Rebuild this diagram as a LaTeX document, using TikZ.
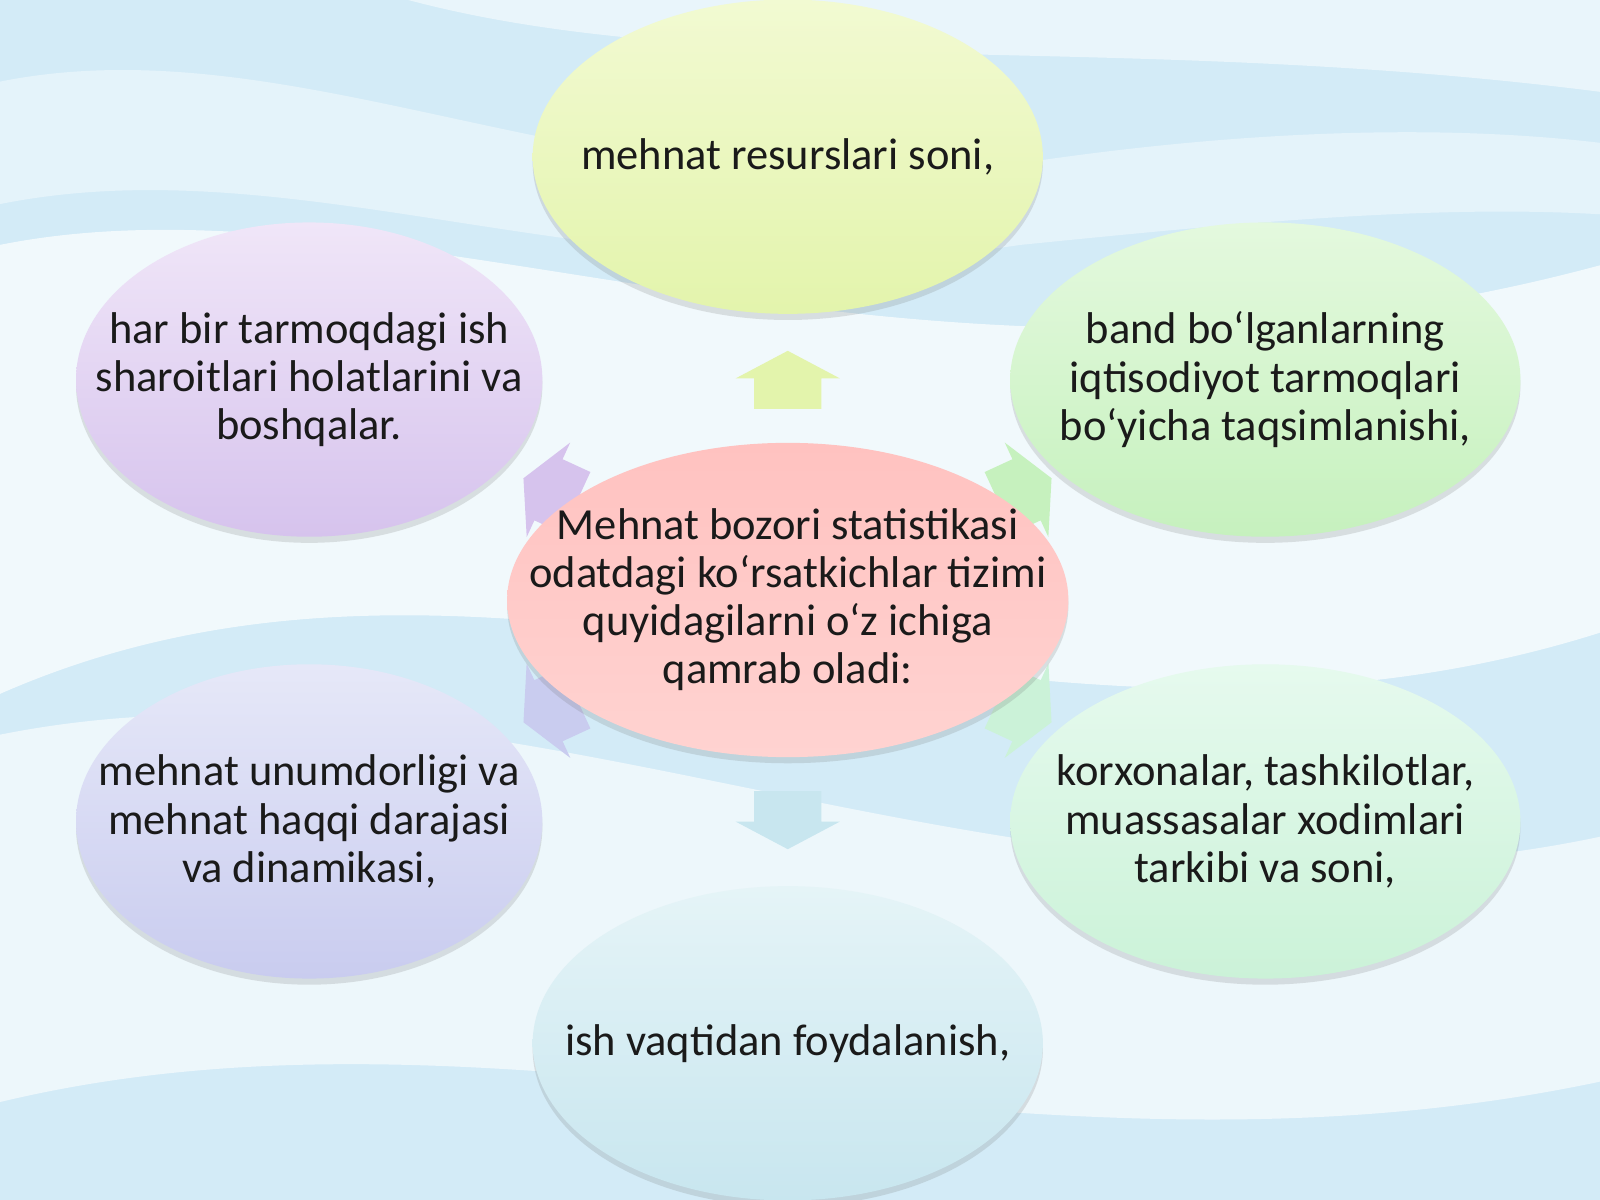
\documentclass[tikz,border=0pt]{standalone}
\usepackage{fontspec}
\setmainfont{Carlito}
\usepackage{xcolor}
\definecolor{sky}{HTML}{D3EBF7}
\definecolor{txt}{HTML}{1A1A1A}
\definecolor{pink-top}{HTML}{FFC2C0}
\definecolor{pink-bot}{HTML}{FFD3D1}
\definecolor{lime-top}{HTML}{F2FAD2}
\definecolor{lime-bot}{HTML}{E3F4AC}
\definecolor{green-top}{HTML}{E4F9DE}
\definecolor{green-bot}{HTML}{C6F1BE}
\definecolor{mint-top}{HTML}{E6FAEE}
\definecolor{mint-bot}{HTML}{CBF2D8}
\definecolor{aqua-top}{HTML}{E5F4F7}
\definecolor{aqua-bot}{HTML}{C8E6EF}
\definecolor{blue-top}{HTML}{E6E8F8}
\definecolor{blue-bot}{HTML}{C9CCEF}
\definecolor{lilac-top}{HTML}{F0E6F8}
\definecolor{lilac-bot}{HTML}{D6C3ED}
\usepackage{tikz}
\usetikzlibrary{positioning}
\usetikzlibrary{shapes.geometric}
\usetikzlibrary{shadows}
\pgfdeclarelayer{bg}
\pgfdeclarelayer{back}
\pgfsetlayers{bg,back,main}
\tikzset{bubble/.style = {ellipse, align=center, inner xsep=-1.5cm, inner ysep=-1cm, minimum height=3.08cm, shading=axis,
  drop shadow={shadow xshift=0pt, shadow yshift=-.06cm, opacity=.18, fill=black!60}}}
\tikzset{blockarr/.pic = {
  \fill[#1] (-.3,-.33) -- (0,-.33) -- (0,-.51) -- (.27,0) -- (0,.51) -- (0,.33) -- (-.3,.33) -- cycle;
}}

\begin{document}
\begin{tikzpicture}[
  node distance = 1.25cm,
  font=\fontsize{12.4}{13.4}\selectfont,
  text=txt
]
\useasboundingbox (0,0) rectangle (15.68,-11.76);

\node[bubble, minimum width=5.5cm, top color=pink-top, bottom color=pink-bot] (ctr) at (7.72,-5.88) {
  Mehnat bozori statistikasi\\
  odatdagi ko‘rsatkichlar tizimi\\
  quyidagilarni o‘z ichiga\\
  qamrab oladi:
};
\node[bubble, minimum width=5cm, top color=lime-top, bottom color=lime-bot, above=of ctr] (res) {mehnat resurslari soni,};
\node[bubble, minimum width=5cm, top color=aqua-top, bottom color=aqua-bot, below=of ctr] (vaqt) {ish vaqtidan foydalanish,};
\node[bubble, minimum width=5cm, top color=green-top, bottom color=green-bot] (band) at (12.40,-3.72) {
  band bo‘lganlarning\\
  iqtisodiyot tarmoqlari\\
  bo‘yicha taqsimlanishi,
};
\node[bubble, minimum width=5cm, top color=mint-top, bottom color=mint-bot] (xodim) at (12.40,-8.05) {
  korxonalar, tashkilotlar,\\
  muassasalar xodimlari\\
  tarkibi va soni,
};
\node[bubble, minimum width=4.57cm, top color=blue-top, bottom color=blue-bot] (haq) at (3.03,-8.05) {
  mehnat unumdorligi va\\
  mehnat haqqi darajasi\\
  va dinamikasi,
};
\node[bubble, minimum width=4.57cm, top color=lilac-top, bottom color=lilac-bot] (shart) at (3.03,-3.72) {
  har bir tarmoqdagi ish\\
  sharoitlari holatlarini va\\
  boshqalar.
};

% block arrows sit behind the bubbles
\begin{pgfonlayer}{back}
\path (ctr.center) -- (res.center) pic[pos=.5, sloped, allow upside down] {blockarr=lime-bot};
\path (ctr.center) -- (vaqt.center) pic[pos=.5, sloped, allow upside down] {blockarr=aqua-bot};
\path (ctr.center) -- (band.center) pic[pos=.5, sloped, allow upside down] {blockarr=green-bot};
\path (ctr.center) -- (xodim.center) pic[pos=.5, sloped, allow upside down] {blockarr=mint-bot};
\path (ctr.center) -- (haq.center) pic[pos=.5, sloped, allow upside down] {blockarr=blue-bot};
\path (ctr.center) -- (shart.center) pic[pos=.5, sloped, allow upside down] {blockarr=lilac-bot};
\end{pgfonlayer}

% sky background
\begin{pgfonlayer}{bg}
\fill[sky] (0,0) rectangle (15.68,-11.76);
\fill[white, opacity=.7] (0,-2.4) .. controls (4,-1.6) and (9,-4.4) .. (15.68,-2.6) -- (15.68,-6.2) .. controls (10,-8) and (5,-4.6) .. (0,-6.8) -- cycle;
\fill[white, opacity=.6] (0,-7.2) .. controls (5,-6.2) and (10,-9.4) .. (15.68,-8.2) -- (15.68,-10.6) .. controls (10,-11.8) and (5,-9.6) .. (0,-10.8) -- cycle;
\fill[white, opacity=.5] (4,0) .. controls (7,-.8) and (11,-.3) .. (15.68,-.9) -- (15.68,0) -- cycle;
\fill[white, opacity=.4] (0,-.8) .. controls (3,-.2) and (6,-2.2) .. (10,-1.6) .. controls (12,-1.3) and (14,-1.2) .. (15.68,-1.4) -- (15.68,-2.1) .. controls (14,-2) and (12,-2.2) .. (10,-2.4) .. controls (6,-3) and (3,-1.4) .. (0,-2) -- cycle;
\end{pgfonlayer}

\end{tikzpicture}
\end{document}
